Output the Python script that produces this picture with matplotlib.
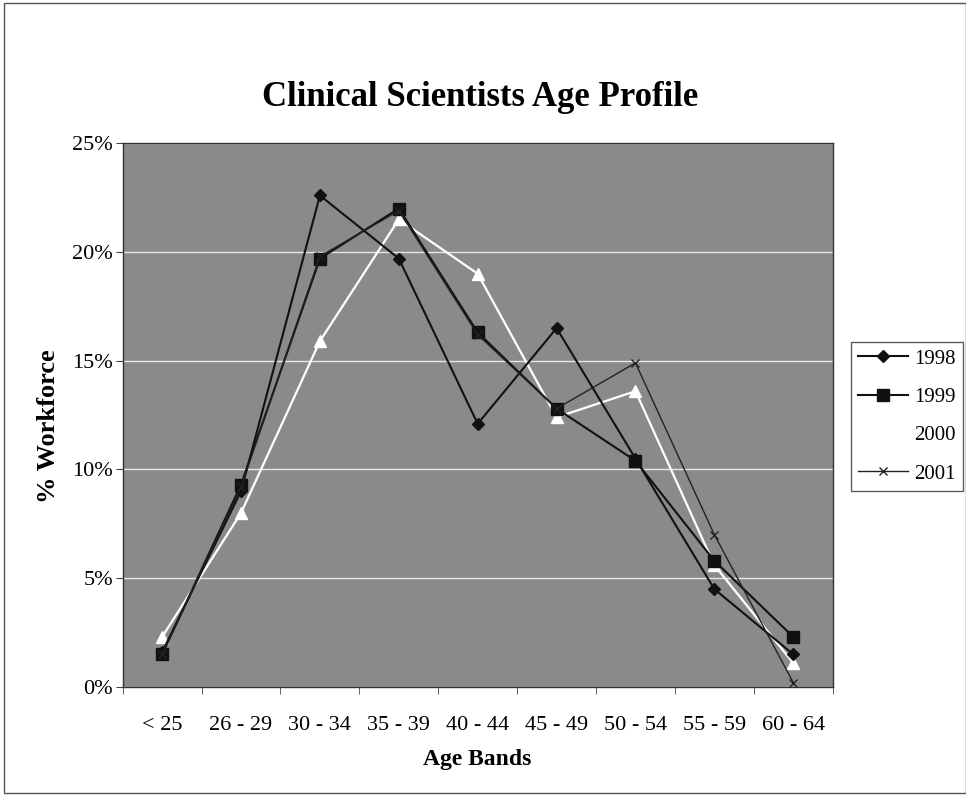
import matplotlib
matplotlib.use("Agg")
import matplotlib.pyplot as plt
from matplotlib.ticker import FuncFormatter, FixedLocator
from matplotlib.patches import Rectangle

categories = ['< 25', '26 - 29', '30 - 34', '35 - 39', '40 - 44',
              '45 - 49', '50 - 54', '55 - 59', '60 - 64']
y1998 = [1.6, 9.0, 22.6, 19.7, 12.1, 16.5, 10.5, 4.5, 1.5]
y1999 = [1.5, 9.3, 19.7, 22.0, 16.3, 12.8, 10.4, 5.8, 2.3]
y2000 = [2.3, 8.0, 15.9, 21.5, 19.0, 12.4, 13.6, 5.6, 1.1]
y2001 = [1.5, 9.2, 19.8, 21.9, 16.2, 12.8, 14.9, 7.0, 0.2]
yticks = [0, 5, 10, 15, 20, 25]

plt.rcParams['font.family'] = ['Liberation Serif', 'DejaVu Serif']

fig = plt.figure(figsize=(9.66, 7.96), dpi=100)
fig.patch.set_facecolor('white')
ax = fig.add_axes([0.127, 0.137, 0.735, 0.683])
ax.set_facecolor('#8a8a8a')

x = list(range(len(categories)))
ax.plot(x, y2000, color='white', lw=1.6, marker='^', ms=8, mfc='white', mec='white', label='2000', zorder=3)
ax.plot(x, y1998, color='#111111', lw=1.5, marker='D', ms=6, mfc='#111111', mec='#111111', label='1998', zorder=4)
ax.plot(x, y1999, color='#111111', lw=1.5, marker='s', ms=8, mfc='#111111', mec='#111111', label='1999', zorder=4)
ax.plot(x, y2001, color='#222222', lw=1.0, marker='x', ms=6, mec='#222222', label='2001', zorder=5)

ax.set_xlim(-0.5, len(categories) - 0.5)
ax.set_ylim(0, 25)
ax.yaxis.set_major_locator(FixedLocator(yticks))
ax.yaxis.set_major_formatter(FuncFormatter(lambda v, p: f"{int(v)}%"))
ax.grid(axis='y', color='#e6e6e6', lw=1.0)
ax.set_axisbelow(True)

ax.set_xticks(x)
ax.set_xticklabels(categories, fontsize=16)
ax.set_xticks([i - 0.5 for i in range(len(categories) + 1)], minor=True)
ax.tick_params(axis='x', which='major', length=0, pad=21)
ax.tick_params(axis='x', which='minor', length=5, direction='out', color='#444444')
ax.tick_params(axis='y', length=5, direction='out', labelsize=16, pad=2, color='#444444')
for s in ax.spines.values():
    s.set_color('#333333')
    s.set_linewidth(1.0)

ax.set_xlabel('Age Bands', fontsize=17, fontweight='bold', labelpad=10)
ax.set_ylabel('% Workforce', fontsize=19, fontweight='bold')
ax.yaxis.set_label_coords(-0.088, 0.48)
fig.text(0.497, 0.878, 'Clinical Scientists Age Profile', ha='center', va='center',
         fontsize=25, fontweight='bold')

handles, labels = ax.get_legend_handles_labels()
order = [labels.index(l) for l in ['1998', '1999', '2000', '2001']]
leg = fig.legend([handles[i] for i in order], [labels[i] for i in order],
                 loc='center left', bbox_to_anchor=(0.881, 0.477),
                 fontsize=15, frameon=True, fancybox=False, edgecolor='#333333',
                 handlelength=2.4, handletextpad=0.3, labelspacing=0.9,
                 borderpad=0.35, borderaxespad=0)
leg.get_frame().set_linewidth(1.0)

fig.add_artist(Rectangle((0.004, 0.004), 0.996, 0.992, transform=fig.transFigure,
                         fill=False, edgecolor='#555555', lw=1.0))

fig.savefig('out.png', dpi=100)
